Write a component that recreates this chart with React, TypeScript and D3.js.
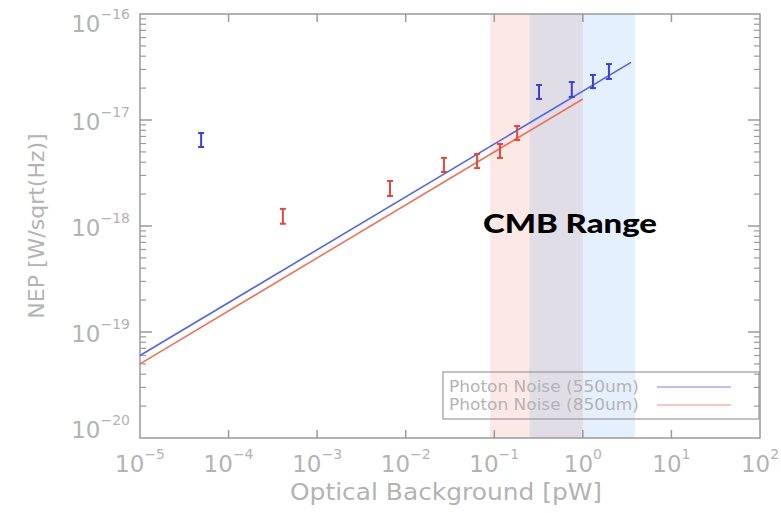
import * as d3 from "d3";

// photon noise curves (endpoints, straight in log-log)
const noise550X = [1e-5, 3.5];
const noise550Y = [6.0e-20, 3.5e-17];
const noise850X = [1e-5, 1.0];
const noise850Y = [5.0e-20, 1.58e-17];

// measured NEP, error bars low/high
const blueX = [4.9e-5, 0.32, 0.75, 1.3, 1.97];
const blueLo = [5.56e-18, 1.58e-17, 1.65e-17, 2.0e-17, 2.44e-17];
const blueHi = [7.53e-18, 2.14e-17, 2.28e-17, 2.66e-17, 3.37e-17];

const redX = [4.1e-4, 6.65e-3, 0.027, 0.064, 0.116, 0.181];
const redLo = [1.05e-18, 1.92e-18, 3.23e-18, 3.52e-18, 4.39e-18, 6.47e-18];
const redHi = [1.45e-18, 2.66e-18, 4.39e-18, 4.78e-18, 5.94e-18, 8.77e-18];

// CMB bands
const band850 = [0.09, 1.0];
const band550 = [0.25, 3.9];

const xExp = [-5, -4, -3, -2, -1, 0, 1, 2];
const yExp = [-20, -19, -18, -17, -16];

const legendLabels = ["Photon Noise (550um)", "Photon Noise (850um)"];

const W = 781;
const H = 513;
const margin = { top: 14, right: 21, bottom: 75, left: 140 };

const axisColor = "#9a9a9a";
const textColor = "#b3b3b3";
const blue = "#3b3fd6";
const red = "#e0473d";
const blueLine = "#5566e0";
const redLine = "#ea7260";
const font = "'DejaVu Sans', sans-serif";

function App() {
    const x0 = margin.left, x1 = W - margin.right;
    const y0 = margin.top, y1 = H - margin.bottom;

    const x = d3.scaleLog().domain([1e-5, 1e2]).range([x0, x1]);
    const y = d3.scaleLog().domain([1e-20, 1e-16]).range([y1, y0]);

    const line = d3.line<[number, number]>().x(d => x(d[0])).y(d => y(d[1]));
    const path550 = line(noise550X.map((v, i) => [v, noise550Y[i]]));
    const path850 = line(noise850X.map((v, i) => [v, noise850Y[i]]));

    const minorY: number[] = [];
    yExp.slice(0, -1).forEach(e => {
        for (let k = 2; k <= 9; k++) minorY.push(k * Math.pow(10, e));
    });

    const errBar = (xv: number, lo: number, hi: number, color: string, key: string) => (
        <g key={key} stroke={color} strokeWidth={2}>
            <line x1={x(xv)} x2={x(xv)} y1={y(lo)} y2={y(hi)} />
            <line x1={x(xv) - 3} x2={x(xv) + 3} y1={y(lo)} y2={y(lo)} />
            <line x1={x(xv) - 3} x2={x(xv) + 3} y1={y(hi)} y2={y(hi)} />
        </g>
    );

    return (
        <svg width={W} height={H} style={{ position: "absolute", left: 0, top: 0 }} fontFamily={font}>
            <rect x={0} y={0} width={W} height={H} fill="white" />

            {/* CMB shaded bands */}
            <rect x={x(band850[0])} y={y0} width={x(band850[1]) - x(band850[0])} height={y1 - y0}
                  fill="rgb(240,150,130)" fillOpacity={0.22} />
            <rect x={x(band550[0])} y={y0} width={x(band550[1]) - x(band550[0])} height={y1 - y0}
                  fill="rgb(120,180,245)" fillOpacity={0.2} />

            {/* frame */}
            <rect x={x0} y={y0} width={x1 - x0} height={y1 - y0} fill="none" stroke={axisColor} strokeWidth={1.5} />

            {/* x ticks */}
            {xExp.slice(1, -1).map(e => (
                <g key={"xt" + e} stroke={axisColor} strokeWidth={1.5}>
                    <line x1={x(Math.pow(10, e))} x2={x(Math.pow(10, e))} y1={y1} y2={y1 - 8} />
                    <line x1={x(Math.pow(10, e))} x2={x(Math.pow(10, e))} y1={y0} y2={y0 + 8} />
                </g>
            ))}
            {/* y ticks */}
            {yExp.slice(1, -1).map(e => (
                <g key={"yt" + e} stroke={axisColor} strokeWidth={1.5}>
                    <line x1={x0} x2={x0 + 12} y1={y(Math.pow(10, e))} y2={y(Math.pow(10, e))} />
                    <line x1={x1} x2={x1 - 12} y1={y(Math.pow(10, e))} y2={y(Math.pow(10, e))} />
                </g>
            ))}
            {minorY.map((v, i) => (
                <g key={"ym" + i} stroke={axisColor} strokeWidth={1.2}>
                    <line x1={x0} x2={x0 + 6} y1={y(v)} y2={y(v)} />
                    <line x1={x1} x2={x1 - 6} y1={y(v)} y2={y(v)} />
                </g>
            ))}

            {/* x tick labels */}
            {xExp.map(e => (
                <text key={"xl" + e} x={x(Math.pow(10, e))} y={y1 + 34} textAnchor="middle" fill={textColor} fontSize={23}>
                    10<tspan fontSize={14} dy={-13}>{e < 0 ? "\u2212" + -e : e}</tspan>
                </text>
            ))}
            {/* y tick labels */}
            {yExp.map(e => {
                const by = Math.min(Math.max(y(Math.pow(10, e)) + 10, y0 + 18), y1);
                return (
                    <text key={"yl" + e} x={x0 - 10} y={by} textAnchor="end" fill={textColor} fontSize={23}>
                        10<tspan fontSize={14} dy={-13}>{"\u2212" + -e}</tspan>
                    </text>
                );
            })}

            {/* axis titles */}
            <text x={290} y={500} fill={textColor} fontSize={23.5} textLength={312} lengthAdjust="spacingAndGlyphs">
                Optical Background [pW]
            </text>
            <text transform={`translate(44,${(y0 + y1) / 2}) rotate(-90)`} textAnchor="middle" fill={textColor} fontSize={22}>
                NEP [W/sqrt(Hz)]
            </text>

            {/* photon noise lines */}
            <path d={path550 ?? ""} fill="none" stroke={blueLine} strokeWidth={1.6} />
            <path d={path850 ?? ""} fill="none" stroke={redLine} strokeWidth={1.6} />

            {/* data */}
            {blueX.map((v, i) => errBar(v, blueLo[i], blueHi[i], blue, "b" + i))}
            {redX.map((v, i) => errBar(v, redLo[i], redHi[i], red, "r" + i))}

            <text x={483} y={233} fontFamily="Lato, sans-serif" fontWeight={900} fontSize={26} fill="#000"
                  textLength={174} lengthAdjust="spacingAndGlyphs">
                CMB Range
            </text>

            {/* legend */}
            <rect x={443} y={372} width={316} height={47} fill="none" stroke={axisColor} strokeWidth={1.2} />
            {legendLabels.map((lab, i) => (
                <g key={lab}>
                    <text x={449} y={392 + i * 17.5} fill={textColor} fontSize={15}
                          textLength={190} lengthAdjust="spacingAndGlyphs">{lab}</text>
                    <line x1={657} x2={731} y1={387 + i * 18} y2={387 + i * 18}
                          stroke={i === 0 ? blueLine : redLine} strokeWidth={1.2} strokeOpacity={0.8} />
                </g>
            ))}
        </svg>
    );
}

export default App;
